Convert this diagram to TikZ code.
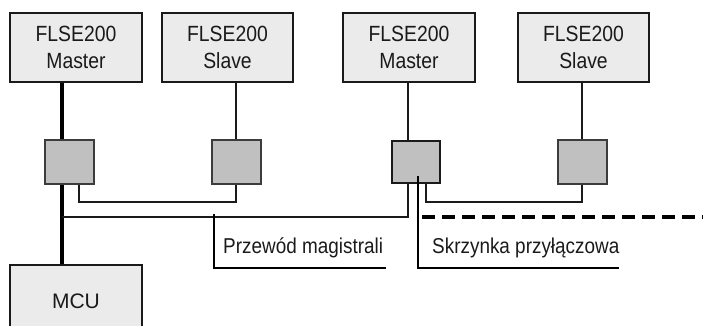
\documentclass[tikz,border=0pt]{standalone}
\usepackage{fontspec}
\setmainfont{Liberation Sans}
\newfontfamily\cond[FakeStretch=0.88]{Liberation Sans}
\definecolor{boxfill}{HTML}{EBEBEB}
\definecolor{sqfill}{HTML}{C0C0C0}
\definecolor{ink}{HTML}{1A1A1A}
\begin{document}
\begin{tikzpicture}[x=1pt,y=-1pt,
  devbox/.style={draw=ink,line width=1.6pt,fill=boxfill,minimum width=132pt,minimum height=69pt,
    inner sep=0pt,align=center,font=\cond\fontsize{22}{27.5}\selectfont,text=ink},
  jbox/.style={draw=ink!85,line width=1.4pt,fill=sqfill,minimum width=49pt,minimum height=44pt,inner sep=0pt},
  wire/.style={draw=ink,line width=2pt},
  bus/.style={draw=black,line width=3.2pt},
  lbl/.style={font=\cond\fontsize{21.5}{24}\selectfont,text=ink,anchor=west,inner sep=0pt}]
\useasboundingbox (0,0) rectangle (703,325);
\begin{scope}
\clip (0,0) rectangle (703,325);
% device boxes
\node[devbox] (m1) at (76,47.5) {FLSE200\\Master};
\node[devbox,minimum width=131pt] (s1) at (227.5,47.5) {FLSE200\\Slave};
\node[devbox] (m2) at (409,47.5) {FLSE200\\Master};
\node[devbox,minimum width=131pt] (s2) at (583.5,47.5) {FLSE200\\Slave};
\node[devbox,minimum height=72pt,font=\fontsize{21}{24}\selectfont] (mcu) at (76,301) {MCU};
% column coordinates
\coordinate (c1) at (62,0);
\coordinate (c1b) at (79,0);
\coordinate (c2) at (236,0);
\coordinate (c3) at (408,0);
\coordinate (c3b) at (426,0);
\coordinate (c3l) at (418,0);
\coordinate (c4) at (582,0);
\coordinate (ybus) at (0,217);
\coordinate (yloop) at (0,202);
\coordinate (ylead) at (0,268);
\coordinate (busend) at (703,217);
\coordinate (lead1) at (214,214);
\coordinate (lead1end) at (386,268);
\coordinate (lead2end) at (619,268);
% vertical drops
\draw[bus] (m1.south -| c1) -- (mcu.north -| c1);
\draw[wire] (s1.south -| c2) -- ++(0,60);
\draw[wire] (m2.south -| c3) -- ++(0,60);
\draw[wire] (s2.south -| c4) -- ++(0,60);
% junction boxes
\node[jbox] (j1) at (69.5,162) {};
\node[jbox] (j2) at (236.5,162) {};
\node[jbox,minimum width=48pt,minimum height=42pt,line width=2pt,draw=ink] (j3) at (416,162) {};
\node[jbox] (j4) at (582.5,162) {};
% bus line
\draw[wire] (c1 |- ybus) -- (c3 |- ybus) -- (j3.south -| c3);
\draw[bus,dash pattern=on 13pt off 7pt] (c3l |- ybus) ++(4,0) -- (busend);
% loops
\draw[wire] (j1.south -| c1b) -- (c1b |- yloop) -- (c2 |- yloop) -- (j2.south -| c2);
\draw[wire] (j3.south -| c3b) -- (c3b |- yloop) -- (c4 |- yloop) -- (j4.south -| c4);
% leaders
\draw[wire,black,line width=2.2pt] (lead1) -- (lead1 |- ylead) -- (lead1end);
\node[lbl] (t1) at (223,248) {Przewód magistrali};
\draw[wire,black,line width=2.2pt] (c3l |- 0,176) -- (c3l |- ylead) -- (lead2end);
\node[lbl] (t2) at (432,248) {Skrzynka przyłączowa};
\end{scope}
\end{tikzpicture}
\end{document}
